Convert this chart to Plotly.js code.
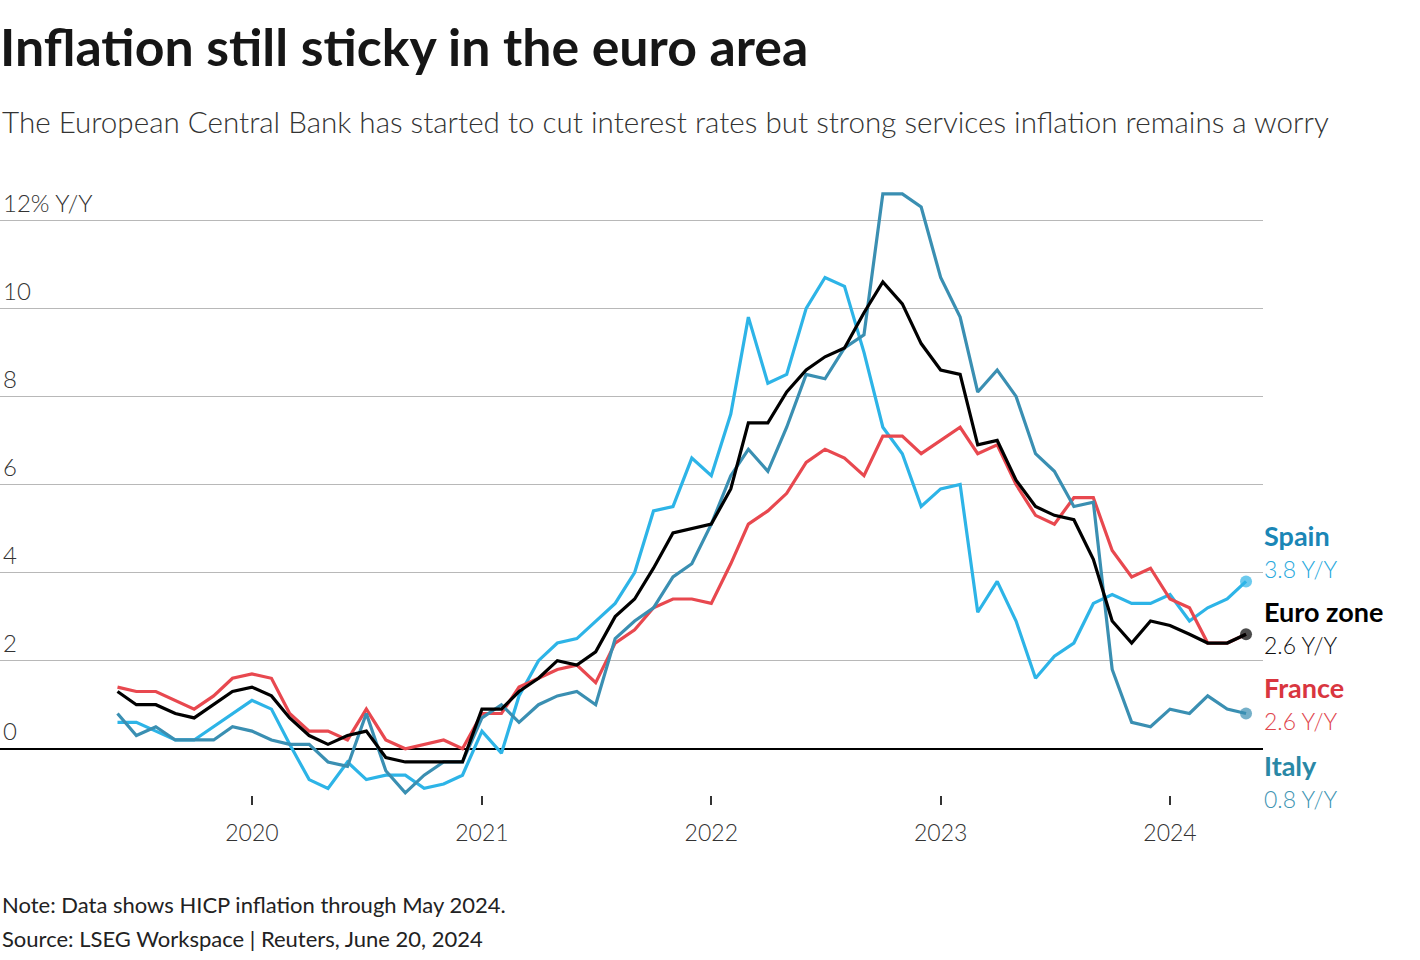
<!DOCTYPE html>
<html><head><meta charset="utf-8">
<script src="https://cdn.plot.ly/plotly-3.0.1.min.js"></script>
<style>html,body{margin:0;padding:0;background:#fff;} #chart{width:1420px;height:960px;}</style>
</head><body><div id="chart"></div>
<script>
// Monthly categories: June 2019 .. May 2024
const months = [];
for (let y = 2019; y <= 2024; y++) {
  for (let m = 1; m <= 12; m++) {
    if ((y === 2019 && m < 6) || (y === 2024 && m > 5)) continue;
    months.push(y + '-' + String(m).padStart(2, '0') + '-01');
  }
}

const euroZone = [1.3,1.0,1.0,0.8,0.7,1.0,1.3,
  1.4,1.2,0.7,0.3,0.1,0.3,0.4,-0.2,-0.3,-0.3,-0.3,-0.3,
  0.9,0.9,1.3,1.6,2.0,1.9,2.2,3.0,3.4,4.1,4.9,5.0,
  5.1,5.9,7.4,7.4,8.1,8.6,8.9,9.1,9.9,10.6,10.1,9.2,
  8.6,8.5,6.9,7.0,6.1,5.5,5.3,5.2,4.3,2.9,2.4,2.9,
  2.8,2.6,2.4,2.4,2.6];
const france = [1.4,1.3,1.3,1.1,0.9,1.2,1.6,
  1.7,1.6,0.8,0.4,0.4,0.2,0.9,0.2,0.0,0.1,0.2,0.0,
  0.8,0.8,1.4,1.6,1.8,1.9,1.5,2.4,2.7,3.2,3.4,3.4,
  3.3,4.2,5.1,5.4,5.8,6.5,6.8,6.6,6.2,7.1,7.1,6.7,
  7.0,7.3,6.7,6.9,6.0,5.3,5.1,5.7,5.7,4.5,3.9,4.1,
  3.4,3.2,2.4,2.4,2.6];
const spain = [0.6,0.6,0.4,0.2,0.2,0.5,0.8,
  1.1,0.9,0.1,-0.7,-0.9,-0.3,-0.7,-0.6,-0.6,-0.9,-0.8,-0.6,
  0.4,-0.1,1.2,2.0,2.4,2.5,2.9,3.3,4.0,5.4,5.5,6.6,
  6.2,7.6,9.8,8.3,8.5,10.0,10.7,10.5,9.0,7.3,6.7,5.5,
  5.9,6.0,3.1,3.8,2.9,1.6,2.1,2.4,3.3,3.5,3.3,3.3,
  3.5,2.9,3.2,3.4,3.8];
const italy = [0.8,0.3,0.5,0.2,0.2,0.2,0.5,
  0.4,0.2,0.1,0.1,-0.3,-0.4,0.8,-0.5,-1.0,-0.6,-0.3,-0.3,
  0.7,1.0,0.6,1.0,1.2,1.3,1.0,2.5,2.9,3.2,3.9,4.2,
  5.1,6.2,6.8,6.3,7.3,8.5,8.4,9.1,9.4,12.6,12.6,12.3,
  10.7,9.8,8.1,8.6,8.0,6.7,6.3,5.5,5.6,1.8,0.6,0.5,
  0.9,0.8,1.2,0.9,0.8];

const yearTicks = ['2020-01-01','2021-01-01','2022-01-01','2023-01-01','2024-01-01'];
const yearLabels = ['2020','2021','2022','2023','2024'];
const yTickVals = [0,2,4,6,8,10,12];
const yTickText = ['0','2','4','6','8','10','12% Y/Y'];

const names = ['Spain','France','Italy','Euro zone'];
const series = [spain, france, italy, euroZone];
const lineColors = ['#2db4e7','#e8484f','#3a8fb2','#000000'];
const endDot = [12, 0, 12, 12];

const FONT = 'Lato, "Noto Sans", sans-serif';

const traces = series.map((vals, k) => ({
  type: 'scatter',
  mode: 'lines+markers',
  name: names[k],
  x: months,
  y: vals,
  line: {color: lineColors[k], width: 3.2},
  marker: {color: lineColors[k], size: vals.map((v, i) => i === vals.length - 1 ? endDot[k] : 0), line: {width: 0}},
  cliponaxis: false,
  hoverinfo: 'x+y+name'
}));

// pixel -> paper conversion for annotation placement
const plotTop = 163, plotBottom = 795, plotRight = 1263;
const py = p => (plotBottom - p) / (plotBottom - plotTop);
const px = p => p / plotRight;

const lastVal = a => a[a.length - 1].toFixed(1) + ' Y/Y';
const labels = [
  {t: 'Spain', y: 535, c: '#1a86b6', b: true},
  {t: lastVal(spain), y: 569, c: '#2aa9dd', b: false},
  {t: 'Euro zone', y: 611, c: '#000000', b: true},
  {t: lastVal(euroZone), y: 645, c: '#111111', b: false},
  {t: 'France', y: 687, c: '#d9363f', b: true},
  {t: lastVal(france), y: 721, c: '#e0464e', b: false},
  {t: 'Italy', y: 765, c: '#2a88a6', b: true},
  {t: lastVal(italy), y: 799, c: '#3f95b3', b: false}
];

const annotations = labels.map(l => ({
  xref: 'paper', yref: 'paper', x: px(1262), y: py(l.y),
  xanchor: 'left', yanchor: 'middle', showarrow: false,
  text: l.t,
  font: {family: FONT, size: l.b ? 27 : 23, color: l.c, weight: l.b ? 700 : 300}
}));

annotations.push({
  xref: 'paper', yref: 'paper', x: 0, y: py(121), xanchor: 'left', yanchor: 'middle',
  showarrow: false,
  text: 'The European Central Bank has started to cut interest rates but strong services inflation remains a worry',
  font: {family: FONT, size: 29.6, color: '#333333', weight: 300}
});
annotations.push({
  xref: 'paper', yref: 'paper', x: 0, y: py(904), xanchor: 'left', yanchor: 'middle',
  showarrow: false, text: 'Note: Data shows HICP inflation through May 2024.',
  font: {family: FONT, size: 22, color: '#222222'}
});
annotations.push({
  xref: 'paper', yref: 'paper', x: 0, y: py(938), xanchor: 'left', yanchor: 'middle',
  showarrow: false, text: 'Source: LSEG Workspace | Reuters, June 20, 2024',
  font: {family: FONT, size: 22, color: '#222222'}
});

const layout = {
  width: 1420, height: 960,
  margin: {l: 0, r: 1420 - plotRight, t: plotTop, b: 960 - plotBottom, pad: 0},
  paper_bgcolor: '#ffffff', plot_bgcolor: '#ffffff',
  showlegend: false,
  title: {
    text: '<b>Inflation still sticky in the euro area</b>',
    x: 0, xref: 'paper', xanchor: 'left',
    y: 1 - 48 / 960, yref: 'container', yanchor: 'middle',
    pad: {l: 0, r: 0, t: 0, b: 0},
    font: {family: FONT, size: 51.8, color: '#161616', weight: 900}
  },
  xaxis: {
    type: 'date',
    range: ['2018-11-26', '2024-05-28'],
    tickmode: 'array', tickvals: yearTicks, ticktext: yearLabels,
    ticks: 'outside', ticklen: 9, tickwidth: 2, tickcolor: '#333333',
    ticklabelstandoff: 8,
    showgrid: false, zeroline: false, showline: false,
    tickfont: {family: FONT, size: 23, color: '#333333', weight: 300},
    automargin: false, fixedrange: true
  },
  yaxis: {
    range: [-1.05, 13.3],
    tickmode: 'array', tickvals: yTickVals, ticktext: yTickText,
    ticklabelposition: 'inside top',
    ticks: '', showline: false,
    showgrid: true, gridcolor: '#b8b8b8', gridwidth: 1,
    zeroline: true, zerolinecolor: '#000000', zerolinewidth: 1.5,
    tickfont: {family: FONT, size: 24, color: '#333333', weight: 300},
    automargin: false, fixedrange: true
  },
  annotations: annotations
};

Plotly.newPlot('chart', traces, layout, {displayModeBar: false, staticPlot: true});
</script>
</body></html>
